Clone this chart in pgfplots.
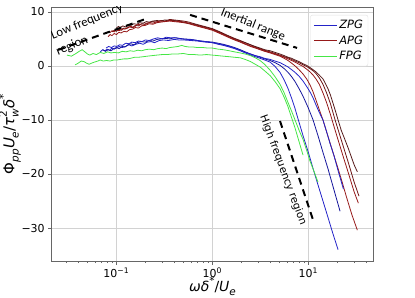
\documentclass[border=0pt]{standalone}
\usepackage{fontspec}
\setmainfont{DejaVu Sans}
\newfontfamily\carlito{Carlito}
\usepackage{pgfplots}
\pgfplotsset{compat=1.18}
\definecolor{zpg}{RGB}{35,35,200}
\definecolor{zpgb}{RGB}{20,20,155}
\definecolor{apg}{RGB}{150,25,25}
\definecolor{apgb}{RGB}{110,20,20}
\definecolor{apgc}{RGB}{85,25,25}
\definecolor{fpg}{RGB}{70,230,70}
\newcommand\sbs[1]{\raisebox{-0.28em}{\fontsize{10.5}{11}\selectfont #1}}
\newcommand\sps[1]{\raisebox{0.5em}{\fontsize{10.5}{11}\selectfont #1}}
\begin{document}
\begin{tikzpicture}
\useasboundingbox (-51.7bp,-37bp) rectangle (363.3bp,261bp);
\begin{axis}[
 scale only axis, width=321.6bp, height=254bp,
 xmode=log, xmin=0.0212, xmax=47.5, ymin=-36.1, ymax=10.9,
 xtick={0.1,1,10}, xticklabels={10\textsuperscript{−1},10\textsuperscript{0},10\textsuperscript{1}},
 minor xtick={0.03,0.04,0.05,0.06,0.07,0.08,0.09,0.2,0.3,0.4,0.5,0.6,0.7,0.8,0.9,2,3,4,5,6,7,8,9,20,30,40},
 ytick={-30,-20,-10,0,10}, yticklabels={−30,−20,−10,0,10},
 xtick pos=lower, ytick pos=left,
 grid=major, major grid style={gray!35, line width=0.7bp},
 tick align=outside, major tick length=3.5bp, minor tick length=2bp,
 tick style={black!60, line width=0.7bp},
 axis line style={black!60, line width=0.8bp},
 tick label style={font=\fontsize{11}{13}\selectfont},
 xlabel={\fontsize{14}{15}\selectfont\textit{ωδ}\sps{*}/\textit{U}\sbs{\textit{e}}},
 xlabel style={yshift=7.5bp},
 ylabel={\fontsize{15}{16}\selectfont Φ\sbs{\textit{pp}}\textit{U}\sbs{\textit{e}}/\textit{τ}\rlap{\sbs{\textit{w}}}\sps{2}\,\textit{δ}\sps{*}},
 ylabel style={yshift=-6bp},
 legend cell align=left,
 legend image code/.code={\draw[#1] (0bp,0bp) -- (23bp,0bp);},
 legend style={at={(rel axis cs:0.984,0.969)}, anchor=north east, draw=gray!25, rounded corners=2bp, fill=white, fill opacity=0.8, text opacity=1, font=\fontsize{11.5}{13}\selectfont\itshape, row sep=1.5bp, inner sep=3bp},
 every axis plot/.append style={line width=0.8bp},
]
% ZPG
\addplot[zpg] coordinates {(0.068,2.6)(0.072,3.0)(0.076,2.8)(0.08,3.1)(0.085,2.9)(0.09,3.3)(0.095,3.1)(0.1,3.3)(0.107,3.6)(0.115,3.4)(0.125,3.6)(0.135,3.9)(0.145,3.7)(0.16,4.0)(0.175,4.2)(0.19,4.0)(0.21,4.4)(0.23,4.5)(0.25,4.3)(0.28,4.7)(0.31,4.8)(0.35,4.7)(0.4,4.9)(0.45,4.8)(0.5,4.8)(0.6,4.7)(0.7,4.6)(0.85,4.4)(1.0,4.3)(1.15,4.0)(1.3,3.8)(1.5,3.5)(1.7,3.2)(1.95,2.8)(2.2,2.4)(2.5,2.0)(2.8,1.7)(3.14,1.4)(3.5,1.1)(4.0,0.7)(4.5,-0.1)(5.07,-1.2)(5.6,-2.6)(6.15,-4.2)(6.7,-6.0)(7.27,-7.9)(7.87,-10.0)(8.8,-12.9)(10,-16.0)(11.2,-19.0)(12.6,-22.0)(14.2,-25.0)(16,-28.0)(18,-31.0)(20.4,-34.0)};
\addlegendentry{ZPG}
% APG
\addplot[apg] coordinates {(0.082,5.4)(0.086,5.8)(0.09,5.6)(0.095,6.0)(0.1,5.8)(0.106,6.2)(0.112,6.1)(0.12,6.4)(0.128,6.3)(0.137,6.7)(0.147,6.8)(0.158,7.1)(0.17,7.0)(0.183,7.4)(0.2,7.5)(0.22,7.8)(0.24,7.7)(0.265,8.0)(0.29,8.1)(0.32,8.2)(0.36,8.3)(0.4,8.2)(0.45,8.1)(0.5,8.0)(0.57,7.8)(0.65,7.5)(0.75,7.2)(0.87,6.9)(1.0,6.6)(1.2,6.0)(1.42,5.4)(1.7,4.8)(1.95,4.4)(2.2,4.0)(2.5,3.6)(2.8,3.3)(3.14,3.0)(3.5,2.7)(4.0,2.4)(4.5,2.1)(5.07,1.8)(5.6,1.4)(6.15,1.0)(6.7,0.5)(7.27,0.0)(8.0,-0.7)(8.8,-1.5)(9.6,-2.4)(10.4,-3.5)(11.2,-4.8)(12.0,-6.3)(13.0,-8.1)(14.2,-10.0)(15.5,-12.2)(17,-14.5)(18.5,-16.6)(20.4,-19.0)(22.5,-21.5)(25,-24.3)(28.5,-27.6)(32.4,-30.4)};
\addlegendentry{APG}
% FPG
\addplot[fpg] coordinates {(0.0306,2.0)(0.034,1.8)(0.038,2.3)(0.041,2.7)(0.044,3.0)(0.047,2.6)(0.050,2.2)(0.053,2.0)(0.057,2.3)(0.062,2.1)(0.068,2.5)(0.074,2.3)(0.081,2.6)(0.088,2.4)(0.096,2.5)(0.105,2.4)(0.115,2.7)(0.126,2.6)(0.139,2.8)(0.152,2.7)(0.167,2.9)(0.183,2.8)(0.2,3.0)(0.22,3.1)(0.245,3.0)(0.27,3.2)(0.3,3.3)(0.33,3.2)(0.36,3.4)(0.4,3.5)(0.44,3.6)(0.48,3.8)(0.52,3.6)(0.57,3.5)(0.63,3.5)(0.7,3.4)(0.8,3.4)(0.9,3.3)(1.0,3.3)(1.15,3.1)(1.3,3.0)(1.5,2.8)(1.7,2.6)(1.95,2.4)(2.2,2.2)(2.5,1.9)(2.8,1.5)(3.14,1.0)(3.5,0.3)(4.0,-0.8)(4.5,-2.0)(5.07,-3.4)(5.6,-5.0)(6.15,-6.8)(6.7,-8.4)(7.27,-10.0)(8.0,-11.9)(8.8,-13.6)(9.6,-15.6)(10.4,-17.6)(11.5,-19.6)(12.6,-21.5)};
\addlegendentry{FPG}
\addplot[fpg, forget plot] coordinates {(0.0372,0.2)(0.040,0.5)(0.043,0.9)(0.046,0.8)(0.049,0.5)(0.052,0.3)(0.055,0.5)(0.059,0.7)(0.064,0.9)(0.068,1.1)(0.073,0.9)(0.079,1.0)(0.086,0.9)(0.094,1.1)(0.102,1.1)(0.11,1.2)(0.12,1.3)(0.13,1.3)(0.14,1.4)(0.155,1.6)(0.17,1.6)(0.19,1.7)(0.21,1.8)(0.235,1.9)(0.265,2.0)(0.3,2.1)(0.34,2.1)(0.38,2.2)(0.43,2.2)(0.5,2.3)(0.57,2.1)(0.65,2.1)(0.75,2.0)(0.87,2.1)(1.0,2.0)(1.15,1.9)(1.3,1.8)(1.5,1.7)(1.7,1.6)(1.95,1.5)(2.2,1.2)(2.5,0.8)(2.8,0.3)(3.14,-0.2)(3.5,-0.9)(4.0,-1.8)(4.5,-2.9)(5.07,-4.2)(5.6,-5.8)(6.15,-7.6)(6.7,-9.6)(7.27,-11.5)(8.0,-14.0)(8.8,-16.5)};
\addplot[zpgb, forget plot] coordinates {(0.072,3.0)(0.077,2.7)(0.082,3.0)(0.088,2.8)(0.094,3.2)(0.1,3.4)(0.107,3.2)(0.115,3.6)(0.123,3.5)(0.132,3.9)(0.142,4.1)(0.152,3.9)(0.165,4.3)(0.18,4.5)(0.2,4.4)(0.22,4.7)(0.24,4.6)(0.265,4.9)(0.29,5.0)(0.32,5.1)(0.36,5.0)(0.4,5.2)(0.45,5.1)(0.5,5.0)(0.6,4.9)(0.7,4.7)(0.85,4.5)(1.0,4.4)(1.15,4.2)(1.3,4.0)(1.5,3.7)(1.7,3.4)(1.95,3.0)(2.2,2.6)(2.5,2.2)(2.8,1.9)(3.14,1.6)(3.5,1.3)(4.0,1.0)(4.5,0.6)(5.07,0.1)(5.6,-0.5)(6.15,-1.2)(6.7,-2.0)(7.27,-2.9)(8.0,-4.2)(8.8,-5.6)(10.0,-7.8)(11.2,-10.0)(12.6,-12.9)(14.2,-16.0)(16,-19.0)(18,-22.2)(21.4,-26.9)};
\addplot[zpg, forget plot] coordinates {(0.078,3.3)(0.083,3.6)(0.089,3.4)(0.095,3.7)(0.101,3.6)(0.108,3.9)(0.116,3.8)(0.125,4.2)(0.135,4.1)(0.145,4.4)(0.157,4.3)(0.17,4.6)(0.185,4.5)(0.2,4.8)(0.22,4.7)(0.245,5.0)(0.27,5.2)(0.3,5.0)(0.33,5.3)(0.37,5.2)(0.42,5.2)(0.47,5.0)(0.55,4.9)(0.65,4.8)(0.75,4.6)(0.87,4.5)(1.0,4.3)(1.15,4.1)(1.3,3.9)(1.5,3.6)(1.7,3.3)(1.95,2.9)(2.2,2.5)(2.5,2.2)(2.8,1.9)(3.14,1.7)(3.5,1.4)(4.0,1.2)(4.5,0.9)(5.07,0.6)(5.6,0.2)(6.15,-0.2)(6.7,-0.7)(7.27,-1.2)(8.0,-1.9)(8.8,-2.8)(9.6,-3.8)(10.4,-4.8)(11.2,-5.9)(12.0,-7.2)(13.0,-8.6)(14.2,-10.0)(15.5,-12.2)(16.8,-14.3)(18.5,-16.6)(20.5,-19.5)(23.2,-22.8)};
\addplot[apgb, forget plot] coordinates {(0.09,6.3)(0.095,6.6)(0.1,6.4)(0.106,6.8)(0.113,6.6)(0.12,7.0)(0.128,6.9)(0.137,7.2)(0.147,7.1)(0.158,7.5)(0.17,7.4)(0.183,7.8)(0.2,7.7)(0.22,8.0)(0.24,8.2)(0.265,8.1)(0.29,8.4)(0.32,8.3)(0.36,8.6)(0.4,8.5)(0.45,8.4)(0.5,8.3)(0.57,8.1)(0.65,7.8)(0.75,7.5)(0.87,7.2)(1.0,6.9)(1.2,6.3)(1.42,5.7)(1.7,5.1)(1.95,4.7)(2.2,4.3)(2.5,3.9)(2.8,3.5)(3.14,3.2)(3.5,2.9)(4.0,2.6)(4.5,2.3)(5.07,2.0)(5.6,1.7)(6.15,1.5)(6.7,1.2)(7.27,0.9)(8.0,0.6)(8.8,0.2)(9.6,-0.1)(10.4,-0.5)(11.2,-0.9)(12.0,-1.4)(13.0,-2.2)(14.2,-3.4)(15.5,-5.0)(17,-7.0)(19,-10.0)(21,-12.5)(23.5,-15.3)(26,-17.8)(30,-21.5)(33.7,-24.1)};
\addplot[apgc, forget plot] coordinates {(0.1,7.0)(0.105,7.3)(0.11,7.1)(0.117,7.4)(0.125,7.2)(0.133,7.6)(0.142,7.5)(0.152,7.8)(0.163,7.7)(0.175,8.0)(0.19,7.9)(0.205,8.2)(0.22,8.1)(0.24,8.3)(0.265,8.4)(0.29,8.3)(0.32,8.5)(0.36,8.4)(0.4,8.4)(0.45,8.3)(0.5,8.1)(0.57,7.9)(0.65,7.7)(0.75,7.4)(0.87,7.1)(1.0,6.8)(1.2,6.2)(1.42,5.6)(1.7,5.0)(1.95,4.6)(2.2,4.3)(2.5,3.9)(2.8,3.6)(3.14,3.3)(3.5,3.0)(4.0,2.8)(4.5,2.5)(5.07,2.2)(5.6,1.9)(6.15,1.6)(6.7,1.4)(7.27,1.1)(8.0,0.8)(8.8,0.4)(9.6,0.1)(10.4,-0.3)(11.2,-0.7)(12.0,-1.1)(13.0,-1.7)(14.2,-2.4)(15,-3.2)(16,-4.2)(17,-5.4)(18,-6.8)(19.2,-8.4)(20.4,-10.0)(22,-11.9)(24,-13.6)(26,-15.2)(28,-16.8)(30,-18.3)(32.4,-19.6)};
\addplot[apg, forget plot] coordinates {(0.085,6.1)(0.09,6.5)(0.095,6.3)(0.1,6.7)(0.107,6.5)(0.115,6.9)(0.123,6.8)(0.132,7.2)(0.142,7.3)(0.152,7.1)(0.163,7.6)(0.175,7.7)(0.19,7.5)(0.205,7.9)(0.22,8.0)(0.24,7.9)(0.265,8.2)(0.29,8.3)(0.32,8.2)(0.36,8.4)(0.4,8.3)(0.45,8.2)(0.5,8.1)(0.57,7.9)(0.65,7.6)(0.75,7.3)(0.87,7.0)(1.0,6.7)(1.2,6.1)(1.42,5.5)(1.7,4.9)(1.95,4.5)(2.2,4.1)(2.5,3.7)(2.8,3.4)(3.14,3.1)(3.5,2.8)(4.0,2.5)(4.5,2.2)(5.07,1.9)(5.6,1.6)(6.15,1.3)(6.7,1.0)(7.27,0.7)(8.0,0.3)(8.8,-0.1)(9.6,-0.6)(10.4,-1.1)(11.2,-1.7)(12.0,-2.4)(13.0,-3.4)(14.2,-5.0)(15.5,-6.8)(17,-9.0)(18.5,-11.2)(20.5,-13.8)(23,-16.7)(26,-19.7)(30,-23.3)(33.2,-25.4)};
% dashed guide lines
\addplot[black, line width=2bp, dash pattern=on 7bp off 5bp, forget plot] coordinates {(0.0247,2.96)(0.199,8.65)};
\addplot[black, line width=2bp, dash pattern=on 7bp off 5bp, forget plot] coordinates {(0.586,9.44)(7.63,3.33)};
\addplot[black, line width=2bp, dash pattern=on 7bp off 5bp, forget plot] coordinates {(5.07,-10.2)(11.2,-28.5)};
\node[rotate=22, font=\carlito\fontsize{12.8}{14}\selectfont] at (axis cs:0.0495,8.15) {Low frequency};
\node[rotate=22, font=\carlito\fontsize{12.8}{14}\selectfont] at (axis cs:0.0346,3.7) {region};
\node[rotate=-21.6, font=\carlito\fontsize{12.6}{14}\selectfont] at (axis cs:2.65,7.6) {Inertial range};
\node[rotate=-69.6, font=\fontsize{10.5}{12}\selectfont] at (axis cs:5.45,-19.3) {High frequency region};
\end{axis}
\end{tikzpicture}
\end{document}
